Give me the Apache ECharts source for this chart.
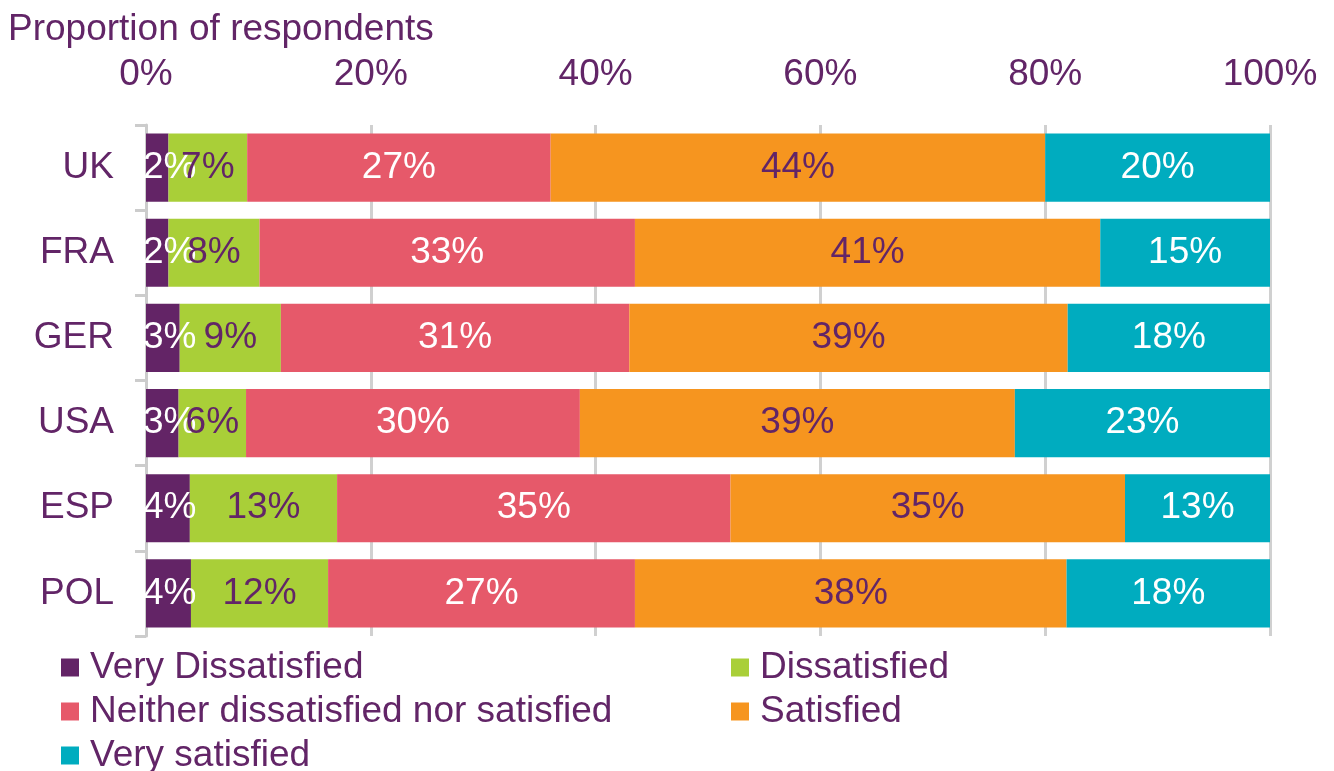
<!DOCTYPE html>
<html>
<head>
<meta charset="utf-8">
<script src="https://cdn.jsdelivr.net/npm/echarts@6/dist/echarts.min.js"></script>
<style>
  html, body { margin: 0; padding: 0; background: #ffffff; }
  #chart { width: 1334px; height: 771px; }
</style>
</head>
<body>
<div id="chart"></div>
<script>
// Satisfaction survey: share of respondents per country (%)
const countries = ['UK', 'FRA', 'GER', 'USA', 'ESP', 'POL'];
const seriesNames = [
  'Very Dissatisfied',
  'Dissatisfied',
  'Neither dissatisfied nor satisfied',
  'Satisfied',
  'Very satisfied'
];
const veryDissatisfied = [2.0, 2.0, 3.0, 2.9, 3.9, 4.0];
const dissatisfied     = [7.0, 8.1, 9.0, 6.0, 13.1, 12.2];
const neither          = [27.0, 33.4, 31.0, 29.7, 35.0, 27.3];
const satisfied        = [44.0, 41.4, 39.0, 38.7, 35.1, 38.4];
const verySatisfied    = [20.0, 15.1, 18.0, 22.7, 12.9, 18.1];
const xTicks = [0, 20, 40, 60, 80, 100];

const PURPLE = '#622567';
const FONT = '"Liberation Sans", Arial, sans-serif';
const FS = 37;

const seriesData = [veryDissatisfied, dissatisfied, neither, satisfied, verySatisfied];
const barColors = ['#632466', '#A9CF38', '#E6596A', '#F6951F', '#00ACBF'];
const labelColors = ['#ffffff', PURPLE, '#ffffff', PURPLE, '#ffffff'];

const chart = echarts.init(document.getElementById('chart'), null, { renderer: 'canvas' });

const legendText = {
  color: PURPLE, fontSize: FS, fontFamily: FONT, lineHeight: 37, padding: [0, 0, 0, 6]
};
const legendBase = {
  orient: 'vertical', itemGap: 7, padding: 0,
  itemWidth: 18, itemHeight: 18, icon: 'rect',
  textStyle: legendText, selectedMode: false
};

chart.setOption({
  animation: false,
  backgroundColor: '#ffffff',
  textStyle: { fontFamily: FONT },
  title: {
    text: 'Proportion of respondents',
    left: 3, top: 6,
    textStyle: { color: PURPLE, fontSize: FS, fontWeight: 'normal', fontFamily: FONT }
  },
  legend: [
    Object.assign({ data: [seriesNames[0], seriesNames[2]], left: 61, top: 649 }, legendBase),
    Object.assign({ data: [seriesNames[4]], left: 61, top: 737 }, legendBase),
    Object.assign({ data: [seriesNames[1], seriesNames[3]], left: 731, top: 649 }, legendBase)
  ],
  grid: { left: 146, right: 64, top: 125, bottom: 135, containLabel: false },
  xAxis: {
    type: 'value', position: 'top',
    min: 0, max: 100, interval: 20,
    axisLine: { show: false },
    axisTick: { show: false },
    axisLabel: {
      color: PURPLE, fontSize: FS, fontFamily: FONT, margin: 32,
      formatter: v => (xTicks.includes(v) ? v + '%' : '')
    },
    splitLine: { show: true, lineStyle: { color: '#d0d0d0', width: 3 } }
  },
  yAxis: {
    type: 'category', inverse: true, data: countries,
    offset: 2,
    axisLine: { show: true, lineStyle: { color: '#cccccc', width: 3 } },
    axisTick: { show: true, length: 11, lineStyle: { color: '#cccccc', width: 3 } },
    axisLabel: { color: PURPLE, fontSize: FS, fontFamily: FONT, margin: 30 }
  },
  series: seriesNames.map((name, i) => ({
    name: name,
    type: 'bar',
    stack: 'total',
    barCategoryGap: '20%',
    data: seriesData[i],
    itemStyle: { color: barColors[i] },
    label: {
      show: true, position: 'inside',
      color: labelColors[i], fontSize: FS, fontFamily: FONT,
      formatter: p => Math.round(p.value) + '%'
    },
    // keep labels from spilling past the left edge of the plot area
    labelLayout: p => ({
      x: Math.max(p.labelRect.x, 143),
      y: p.labelRect.y,
      align: 'left',
      verticalAlign: 'top'
    })
  }))
});
</script>
</body>
</html>
